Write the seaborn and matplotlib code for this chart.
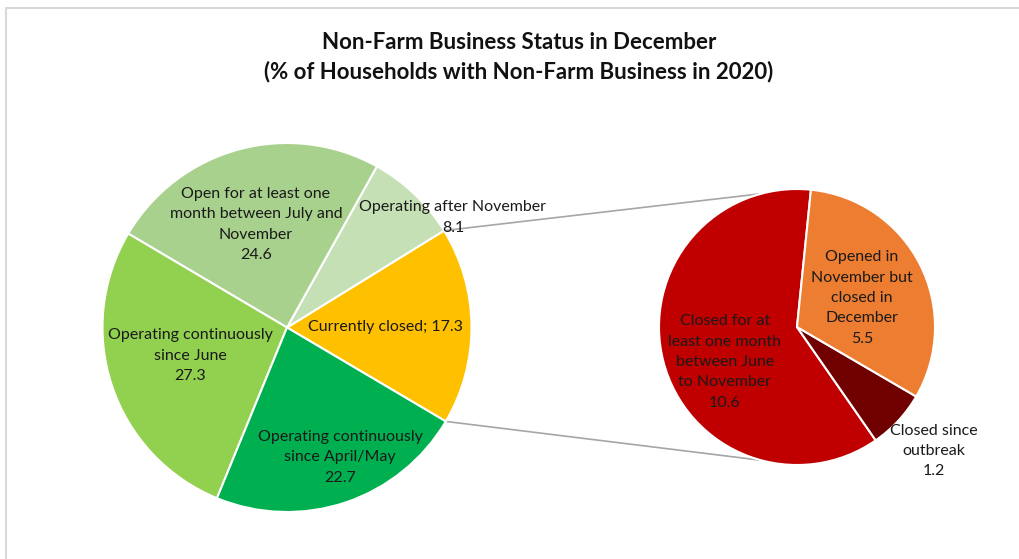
"""
Pie-of-pie: non-farm business status in December (% of households, 2020).
"""

import numpy as np
import matplotlib.pyplot as plt
import seaborn as sns

# ── Data ──────────────────────────────────────────────────────────────────────
main_labels = [
    "Currently closed",
    "Operating after November",
    "Open for at least one\nmonth between July and\nNovember",
    "Operating continuously\nsince June",
    "Operating continuously\nsince April/May",
]
main_values = [17.3, 8.1, 24.6, 27.3, 22.7]
main_colors = ["#FFC000", "#C5E0B4", "#A9D18E", "#92D050", "#00B050"]

sub_labels = [
    "Closed for at\nleast one month\nbetween June\nto November",
    "Closed since\noutbreak",
    "Opened in\nNovember but\nclosed in\nDecember",
]
sub_values = [10.6, 1.2, 5.5]
sub_colors = ["#C00000", "#700000", "#ED7D31"]

TITLE = "Non-Farm Business Status in December\n(% of Households with Non-Farm Business in 2020)"


def render():
    sns.set_theme(style="white")
    plt.rcParams["font.family"] = ["Lato", "DejaVu Sans"]

    W, H = 1019, 559
    fig = plt.figure(figsize=(W / 100, H / 100), dpi=100)
    ax = fig.add_axes([0, 0, 1, 1])

    # pixel-ish layout (y up)
    c_main, r_main = (287, H - 327.5), 184.5
    c_sub, r_sub = (797, H - 327), 138
    wedge_kw = dict(edgecolor="white", linewidth=1.5)
    txt_kw = dict(ha="center", va="center", fontsize=11.5, color="#1a1a1a",
                  linespacing=1.58)

    w_main, _ = ax.pie(main_values, colors=main_colors, startangle=-30.6,
                       center=c_main, radius=r_main, wedgeprops=wedge_kw)
    w_sub, _ = ax.pie(sub_values, colors=sub_colors, startangle=84.2,
                      center=c_sub, radius=r_sub, wedgeprops=wedge_kw)

    # connector lines: split wedge edges -> top / bottom of the secondary pie
    t1, t2 = np.deg2rad(w_main[0].theta1), np.deg2rad(w_main[0].theta2)
    for a_main, a_sub in [(t2, np.deg2rad(105)), (t1, np.deg2rad(255))]:
        x0 = c_main[0] + r_main * np.cos(a_main)
        y0 = c_main[1] + r_main * np.sin(a_main)
        x1 = c_sub[0] + r_sub * np.cos(a_sub)
        y1 = c_sub[1] + r_sub * np.sin(a_sub)
        ax.plot([x0, x1], [y0, y1], color="#A6A6A6", linewidth=1.2, zorder=0)

    # data labels (offsets from each pie centre)
    main_off = [(98, 0), (166, 110), (-31, 103), (-97, -28), (53, -130)]
    for name, val, (dx, dy) in zip(main_labels, main_values, main_off):
        sep = "; " if name == "Currently closed" else "\n"
        ax.text(c_main[0] + dx, c_main[1] + dy, f"{name}{sep}{val}", **txt_kw)

    sub_off = [(-72, -35), (137, -124), (65, 29)]
    for name, val, (dx, dy) in zip(sub_labels, sub_values, sub_off):
        ax.text(c_sub[0] + dx, c_sub[1] + dy, f"{name}\n{val}", **txt_kw)

    # chart frame (only top/left visible in the crop)
    ax.plot([6, W], [H - 8, H - 8], color="#D9D9D9", linewidth=1.5)
    ax.plot([6, 6], [0, H - 8], color="#D9D9D9", linewidth=1.5)

    fig.text(519 / W, 1 - 57 / H, TITLE, ha="center", va="center",
             fontsize=16, fontweight="bold", color="#111111", linespacing=1.45)

    ax.set_xlim(0, W)
    ax.set_ylim(0, H)
    ax.set_aspect("equal")
    ax.axis("off")

    fig.savefig("out.png", dpi=100, facecolor="white")
    return fig


if __name__ == "__main__":
    render()
